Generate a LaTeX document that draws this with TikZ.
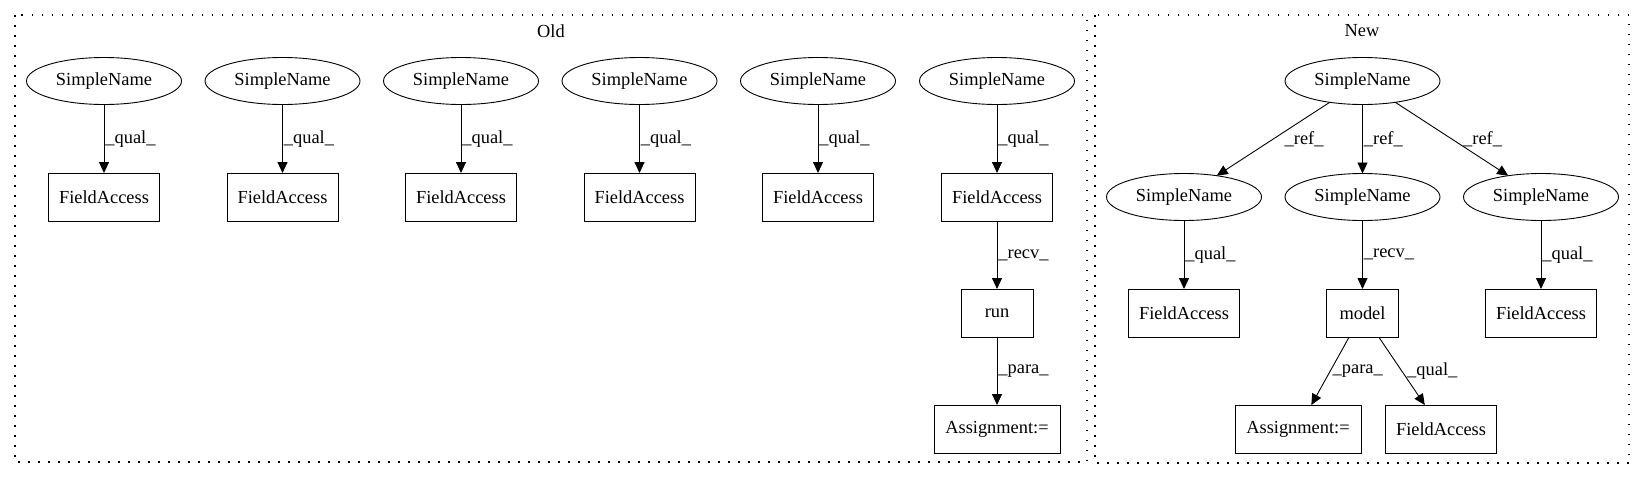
\documentclass[tikz,border=0pt]{standalone}
\usepackage{fontspec}
\setmainfont{Liberation Serif}
\usetikzlibrary{arrows.meta,shapes.geometric}
\tikzset{
  gvfont/.style={font=\fontsize{18.4}{22}\selectfont},
  snode/.style={shape=ellipse, draw, gvfont, line width=0.9pt, inner xsep=0pt, inner ysep=0pt, outer sep=0pt, minimum width=155pt, minimum height=47pt},
  rbox/.style={draw, shape=rectangle, gvfont, line width=0.9pt, minimum height=48pt, inner sep=0pt, outer sep=0pt},
  fabox/.style={rbox, minimum width=111pt},
  arr/.style={draw, line width=0.9pt, -{Triangle[length=11pt,width=10pt]}},
  lbl/.style={gvfont, inner sep=0pt, anchor=west},
  cluster/.style={draw, line width=1.3pt, dash pattern=on 1.5pt off 8.5pt},
  ctitle/.style={gvfont, inner sep=0pt}
}
\begin{document}
\begin{tikzpicture}[x=1pt,y=-1pt]
\useasboundingbox (0,0) rectangle (1645,480);
% clusters
\draw[cluster] (15,15) rectangle (1087,462);
\draw[cluster] (1095,15) rectangle (1629,463);
\node[ctitle] (told) at (551,31) {Old};
\node[ctitle] (tnew) at (1362,31) {New};
% Old
\node[snode] (o1) at (104,81) {SimpleName};
\node[snode] (o2) at (282.5,81) {SimpleName};
\node[snode] (o3) at (461,81) {SimpleName};
\node[snode] (o4) at (639.5,81) {SimpleName};
\node[snode] (o5) at (818,81) {SimpleName};
\node[snode] (o6) at (997,81) {SimpleName};
\node[fabox] (f1) at (104,197) {FieldAccess};
\node[fabox] (f2) at (282.5,197) {FieldAccess};
\node[fabox] (f3) at (461,197) {FieldAccess};
\node[fabox] (f4) at (639.5,197) {FieldAccess};
\node[fabox] (f5) at (818,197) {FieldAccess};
\node[fabox] (f6) at (997,197) {FieldAccess};
\draw[arr] (o1) -- node[lbl, xshift=1pt] {\_qual\_} (f1);
\draw[arr] (o2) -- node[lbl, xshift=1pt] {\_qual\_} (f2);
\draw[arr] (o3) -- node[lbl, xshift=1pt] {\_qual\_} (f3);
\draw[arr] (o4) -- node[lbl, xshift=1pt] {\_qual\_} (f4);
\draw[arr] (o5) -- node[lbl, xshift=1pt] {\_qual\_} (f5);
\draw[arr] (o6) -- node[lbl, xshift=1pt] {\_qual\_} (f6);
\node[rbox, minimum width=72pt] (run) at (997,313) {run};
\node[rbox, minimum width=126pt] (oas) at (997,429) {Assignment:=};
\draw[arr] (f6) -- node[lbl, xshift=1pt] {\_recv\_} (run);
\draw[arr] (run) -- node[lbl, xshift=1pt] {\_para\_} (oas);
% New
\node[snode] (nt) at (1362.5,81) {SimpleName};
\node[snode] (n1) at (1184,197) {SimpleName};
\node[snode] (n2) at (1362.5,197) {SimpleName};
\node[snode] (n3) at (1541,197) {SimpleName};
\node[fabox] (nf1) at (1184,313) {FieldAccess};
\node[rbox, minimum width=72pt] (model) at (1362.5,313) {model};
\node[fabox] (nf3) at (1541,313) {FieldAccess};
\node[rbox, minimum width=126pt] (nas) at (1298,429) {Assignment:=};
\node[fabox] (nf4) at (1441,429) {FieldAccess};
\draw[arr] (nt) -- node[lbl, xshift=11pt] {\_ref\_} (n1);
\draw[arr] (nt) -- node[lbl, xshift=1pt] {\_ref\_} (n2);
\draw[arr] (nt) -- node[lbl, xshift=11pt] {\_ref\_} (n3);
\draw[arr] (n1) -- node[lbl, xshift=1pt] {\_qual\_} (nf1);
\draw[arr] (n2) -- node[lbl, xshift=1pt] {\_recv\_} (model);
\draw[arr] (n3) -- node[lbl, xshift=1pt] {\_qual\_} (nf3);
\draw[arr] (model) -- node[lbl, xshift=2pt] {\_para\_} (nas);
\draw[arr] (model) -- node[lbl, xshift=5pt] {\_qual\_} (nf4);
\end{tikzpicture}
\end{document}
